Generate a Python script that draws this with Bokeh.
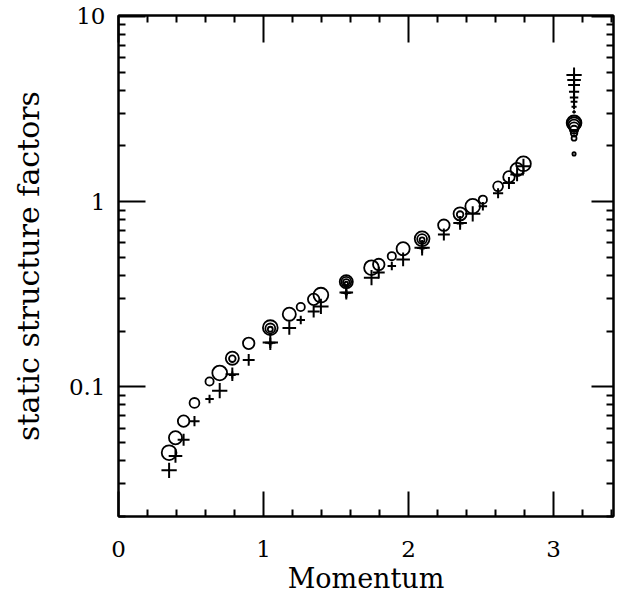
from bokeh.plotting import figure
from bokeh.models import (ColumnDataSource, FixedTicker, LinearAxis, LogAxis,
                          CustomJSTickFormatter, Range1d)
from bokeh.embed import file_html
from bokeh.resources import INLINE

# ---- data ----
momentum = [0.349, 0.393, 0.449, 0.524, 0.628, 0.698, 0.785, 0.785, 0.898,
            1.047, 1.047, 1.047, 1.178, 1.257, 1.346, 1.396,
            1.571, 1.571, 1.571, 1.571, 1.745, 1.795, 1.885, 1.963,
            2.094, 2.094, 2.094, 2.244, 2.356, 2.356, 2.443, 2.513,
            2.618, 2.693, 2.749, 2.793,
            3.142, 3.142, 3.142, 3.142, 3.142, 3.142, 3.142, 3.142]
system_size = [18, 16, 14, 12, 10, 18, 16, 8, 14,
               18, 12, 6, 16, 10, 14, 18,
               16, 12, 8, 4, 18, 14, 10, 16,
               18, 12, 6, 14, 16, 8, 18, 10,
               12, 14, 16, 18,
               18, 16, 14, 12, 10, 8, 6, 4]
s_circle = [0.0442, 0.0532, 0.0654, 0.082, 0.107, 0.119, 0.143, 0.142, 0.172,
            0.209, 0.207, 0.205, 0.247, 0.270, 0.297, 0.313,
            0.370, 0.369, 0.367, 0.362, 0.440, 0.458, 0.508, 0.557,
            0.630, 0.628, 0.622, 0.746, 0.859, 0.852, 0.944, 1.025,
            1.21, 1.36, 1.49, 1.60,
            2.66, 2.63, 2.58, 2.52, 2.44, 2.34, 2.20, 1.81]
s_plus = [0.0355, 0.0424, 0.0519, 0.0654, 0.086, 0.0955, 0.117, 0.116, 0.140,
          0.174, 0.173, 0.172, 0.208, 0.230, 0.255, 0.272,
          0.323, 0.322, 0.321, 0.318, 0.389, 0.414, 0.449, 0.488,
          0.564, 0.562, 0.558, 0.665, 0.768, 0.762, 0.859, 0.944,
          1.11, 1.26, 1.40, 1.55,
          4.82, 4.53, 4.26, 3.92, 3.65, 3.46, 3.25, 3.05]

x_ticks = [0, 1, 2, 3]
y_ticks = [0.1, 1, 10]

FONT = "DejaVu Serif"

src = ColumnDataSource(dict(
    q=momentum, sc=s_circle, sp=s_plus,
    csize=[0.82 * L for L in system_size],
    psize=[0.85 * L for L in system_size],
))

p = figure(width=615, height=596, output_backend="svg", toolbar_location=None,
           y_axis_type="log", x_range=Range1d(0, 3.414), y_range=Range1d(0.02, 10.1),
           min_border_left=118, min_border_right=2, min_border_top=15,
           min_border_bottom=78, background_fill_color="white",
           border_fill_color="white", x_axis_label="Momentum",
           y_axis_label="static structure factors")

p.grid.visible = False
p.outline_line_color = "black"
p.outline_line_width = 2

x_minor = [0.2 * i for i in range(1, 18) if i % 5 != 0]
y_minor = [m * 10.0 ** e for e in (-2, -1, 0) for m in range(2, 10)]

xt = FixedTicker(ticks=x_ticks, minor_ticks=x_minor)
yt = FixedTicker(ticks=y_ticks, minor_ticks=y_minor)
yfmt = CustomJSTickFormatter(code="return tick >= 1 ? tick.toFixed(0) : tick.toFixed(1)")
empty = CustomJSTickFormatter(code="return ''")

def style(ax, major, labels=True, label_size="27px"):
    ax.axis_line_color = "black"
    ax.axis_line_width = 2
    ax.major_tick_line_color = "black"
    ax.major_tick_line_width = 2
    ax.minor_tick_line_color = "black"
    ax.minor_tick_line_width = 2
    ax.major_tick_in = major
    ax.major_tick_out = 0
    ax.minor_tick_in = 7
    ax.minor_tick_out = 0
    if labels:
        ax.major_label_text_font = FONT
        ax.major_label_text_font_size = "23px"
        ax.major_label_text_color = "black"
        ax.axis_label_text_font = FONT
        ax.axis_label_text_font_size = label_size
        ax.axis_label_text_font_style = "normal"
        ax.axis_label_text_color = "black"
    else:
        ax.major_label_text_font_size = "0px"
        ax.major_label_standoff = 0

xa = p.xaxis[0]
xa.ticker = xt
style(xa, 25, label_size="27px")
xa.major_label_standoff = 24
xa.axis_label_standoff = 3

ya = p.yaxis[0]
ya.ticker = yt
ya.formatter = yfmt
style(ya, 27, label_size="30px")
ya.major_label_standoff = 13
ya.axis_label_standoff = 20

top = LinearAxis(ticker=xt, formatter=empty)
style(top, 27, labels=False)
p.add_layout(top, "above")

right = LogAxis(ticker=yt, formatter=empty)
style(right, 22, labels=False)
p.add_layout(right, "right")

p.scatter("q", "sc", source=src, marker="circle", size="csize",
          fill_color=None, line_color="black", line_width=1.8)
p.scatter("q", "sp", source=src, marker="cross", size="psize",
          line_color="black", line_width=2)

open("out.html", "w").write(file_html(p, INLINE))
